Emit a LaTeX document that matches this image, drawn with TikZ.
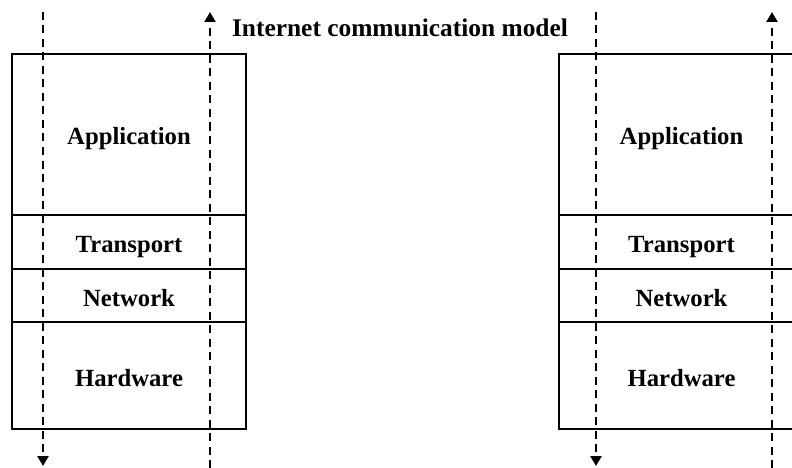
\documentclass[tikz,border=0pt]{standalone}
\usepackage{fontspec}
\setmainfont{Liberation Serif}
\usetikzlibrary{positioning,arrows.meta}
\begin{document}
\begin{tikzpicture}
	[ x=1pt, y=-1pt,
	  layer/.style={draw,line width=1.6pt,inner sep=0pt,outer sep=0pt,text height=21pt,text depth=0pt,font=\fontsize{24.7}{28}\bfseries\selectfont},
	  flow/.style={line width=2.8pt,dash pattern=on 8pt off 5.5pt,-{Triangle[width=11pt,length=10pt]}},
	  title/.style={font=\fontsize{25.4}{30}\bfseries\selectfont} ]

	\clip (0,0) rectangle (792,468);
	\fill[white] (0,0) rectangle (792,468);

	\node[title,anchor=base] (head) at (400,37) {Internet communication model};

	\node[layer,minimum width=234pt,minimum height=161pt,anchor=north west] (appl) at (12,54) {Application};
	\node[layer,minimum width=234pt,minimum height=54pt,below=0pt of appl] (tranl) {Transport};
	\node[layer,minimum width=234pt,minimum height=53pt,below=0pt of tranl] (netl) {Network};
	\node[layer,minimum width=234pt,minimum height=107pt,below=0pt of netl] (hwl) {Hardware};

	\node[layer,minimum width=245pt,minimum height=161pt,anchor=north west] (appr) at (559,54) {Application};
	\node[layer,minimum width=245pt,minimum height=54pt,below=0pt of appr] (tranr) {Transport};
	\node[layer,minimum width=245pt,minimum height=53pt,below=0pt of tranr] (netr) {Network};
	\node[layer,minimum width=245pt,minimum height=107pt,below=0pt of netr] (hwr) {Hardware};

	\coordinate (downl-top) at (43,12);
	\coordinate (downl-bot) at (43,466);
	\coordinate (upl-bot) at (210,468);
	\coordinate (upl-top) at (210,12);
	\coordinate (downr-top) at (596,12);
	\coordinate (downr-bot) at (596,466);
	\coordinate (upr-bot) at (772,468);
	\coordinate (upr-top) at (772,12);

	\draw[flow] (downl-top) -- (downl-bot);
	\draw[flow] (upl-bot) -- (upl-top);
	\draw[flow] (downr-top) -- (downr-bot);
	\draw[flow] (upr-bot) -- (upr-top);

\end{tikzpicture}
\end{document}
